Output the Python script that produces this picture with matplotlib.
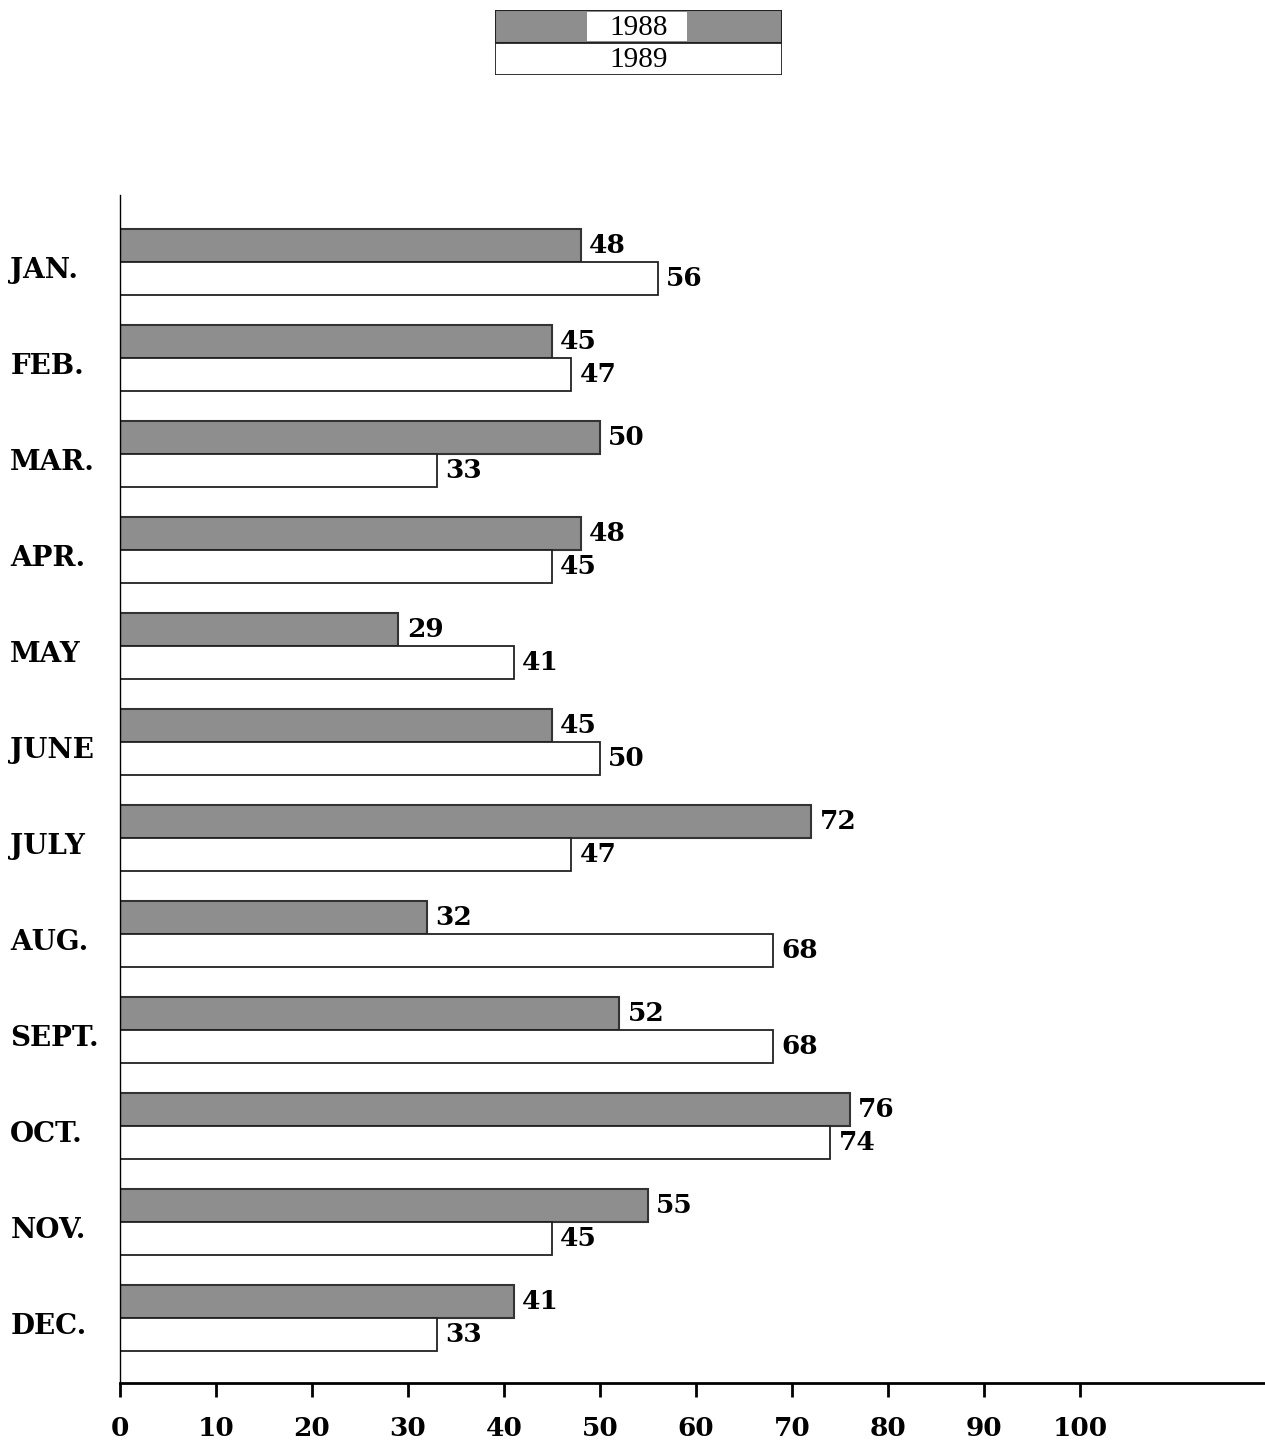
import matplotlib.pyplot as plt
import numpy as np

#-------------------------------------------DATA---------------------------------------
months = ['JAN.', 'FEB.', 'MAR.', 'APR.', 'MAY', 'JUNE', 'JULY',
          'AUG.', 'SEPT.', 'OCT.', 'NOV.', 'DEC.']
vals_1988 = [48, 45, 50, 48, 29, 45, 72, 32, 52, 76, 55, 41]
vals_1989 = [56, 47, 33, 45, 41, 50, 47, 68, 68, 74, 45, 33]
x_ticks = [0, 10, 20, 30, 40, 50, 60, 70, 80, 90, 100]
#-------------------------------------------DATA---------------------------------------

W, H = 1265, 1443
fig = plt.figure(figsize=(W / 100, H / 100), dpi=100)
plt.rcParams['font.family'] = ['DejaVu Serif']

grey = '#8e8e8e'
bar_h = 0.345

ax = fig.add_axes([120 / W, 1 - 1383 / H, (W - 120) / W, (1383 - 195) / H])
y = np.arange(len(months))

ax.barh(y - bar_h / 2, vals_1988, height=bar_h, color=grey,
        edgecolor='#333333', linewidth=1.5)
ax.barh(y + bar_h / 2, vals_1989, height=bar_h, color='white',
        edgecolor='#222222', linewidth=1.3)

for i in range(len(months)):
    ax.annotate(str(vals_1988[i]), (vals_1988[i], y[i] - bar_h / 2),
                xytext=(6, 0), textcoords='offset points', va='center',
                ha='left', fontsize=19, fontweight='bold')
    ax.annotate(str(vals_1989[i]), (vals_1989[i], y[i] + bar_h / 2),
                xytext=(6, 0), textcoords='offset points', va='center',
                ha='left', fontsize=19, fontweight='bold')

ax.set_xlim(0, (W - 120) / 9.6)
ax.set_ylim(11.68, -0.70)

ax.set_xticks(x_ticks)
ax.set_xticklabels([str(t) for t in x_ticks], fontsize=19, fontweight='bold')
ax.tick_params(axis='x', direction='out', length=10, width=2, pad=14)

ax.set_yticks(y + 0.06)
ax.set_yticklabels(months, fontsize=20, fontweight='bold', ha='left')
ax.tick_params(axis='y', length=0, pad=79)

ax.spines['top'].set_visible(False)
ax.spines['right'].set_visible(False)
ax.spines['left'].set_linewidth(1.0)
ax.spines['bottom'].set_linewidth(2.0)

#Legend
lax = fig.add_axes([495 / W, 1 - 75 / H, 287 / W, 65 / H])
lax.set_xlim(0, 1)
lax.set_ylim(0, 2)
lax.axis('off')
lax.add_patch(plt.Rectangle((0, 1), 1, 1, facecolor=grey, edgecolor='#222222', linewidth=1.5))
lax.add_patch(plt.Rectangle((0.32, 1.05), 0.35, 0.9, facecolor='white', edgecolor='none'))
lax.add_patch(plt.Rectangle((0, 0), 1, 1, facecolor='white', edgecolor='#222222', linewidth=1.3))
lax.text(0.5, 1.45, '1988', ha='center', va='center', fontsize=21, family='Liberation Serif')
lax.text(0.5, 0.45, '1989', ha='center', va='center', fontsize=21, family='Liberation Serif')

plt.savefig('out.png', dpi=100)
